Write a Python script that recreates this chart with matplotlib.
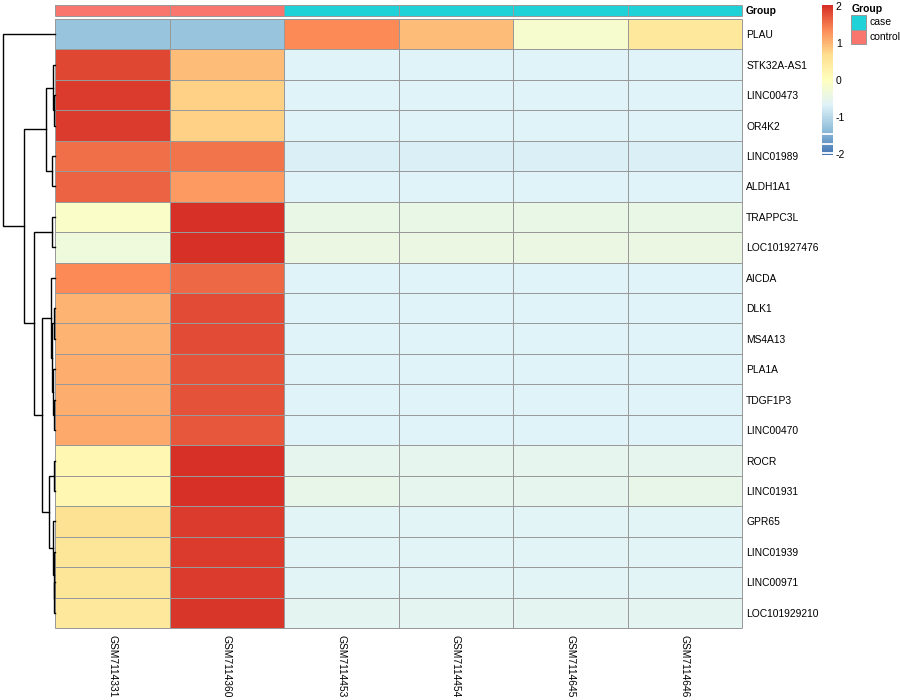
import numpy as np
import matplotlib
matplotlib.use('Agg')
import matplotlib.pyplot as plt
from matplotlib.colors import LinearSegmentedColormap, ListedColormap
from matplotlib.patches import Rectangle

plt.rcParams['font.family'] = ['Liberation Sans', 'DejaVu Sans']

genes = ["PLAU", "STK32A-AS1", "LINC00473", "OR4K2", "LINC01989", "ALDH1A1",
         "TRAPPC3L", "LOC101927476", "AICDA", "DLK1", "MS4A13", "PLA1A",
         "TDGF1P3", "LINC00470", "ROCR", "LINC01931", "GPR65", "LINC01939",
         "LINC00971", "LOC101929210"]
samples = ["GSM7114331", "GSM7114360", "GSM7114453", "GSM7114454",
           "GSM7114645", "GSM7114646"]
groups = ["control", "control", "case", "case", "case", "case"]

# row-scaled expression (z-scores)
zvals = [
    [-1.30, -1.30, 1.35, 0.95, -0.20, 0.50],
    [1.85, 0.95, -0.67, -0.67, -0.67, -0.67],
    [1.92, 0.78, -0.66, -0.66, -0.66, -0.66],
    [1.92, 0.78, -0.66, -0.66, -0.66, -0.66],
    [1.58, 1.52, -0.70, -0.70, -0.70, -0.70],
    [1.65, 1.25, -0.68, -0.68, -0.68, -0.68],
    [-0.10, 2.04, -0.48, -0.48, -0.48, -0.48],
    [-0.35, 2.04, -0.42, -0.42, -0.42, -0.42],
    [1.35, 1.60, -0.69, -0.69, -0.69, -0.69],
    [1.05, 1.80, -0.67, -0.67, -0.67, -0.67],
    [1.05, 1.80, -0.67, -0.67, -0.67, -0.67],
    [1.07, 1.79, -0.67, -0.67, -0.67, -0.67],
    [1.10, 1.76, -0.67, -0.67, -0.67, -0.67],
    [1.12, 1.74, -0.67, -0.67, -0.67, -0.67],
    [0.20, 2.00, -0.55, -0.55, -0.55, -0.55],
    [0.18, 2.00, -0.53, -0.55, -0.55, -0.50],
    [0.65, 1.95, -0.63, -0.63, -0.63, -0.63],
    [0.55, 1.95, -0.62, -0.62, -0.62, -0.62],
    [0.55, 1.95, -0.62, -0.62, -0.62, -0.62],
    [0.50, 1.97, -0.61, -0.61, -0.61, -0.61],
]

# row dendrogram: (child a, child b, height); leaves 0..19, merge k -> id 20+k
merges = [
    (2, 3, 0.13), (1, 20, 0.33), (4, 5, 0.52), (21, 22, 1.72),
    (6, 7, 0.63), (9, 10, 0.19), (12, 13, 0.19), (11, 26, 0.33),
    (25, 27, 0.57), (8, 28, 0.76), (14, 15, 0.13), (18, 19, 0.10),
    (17, 31, 0.19), (16, 32, 0.33), (30, 33, 1.20), (29, 34, 2.49),
    (24, 35, 3.96), (23, 36, 5.93), (0, 37, 10.0),
]

group_colors = {"case": "#1ED2D8", "control": "#F8766D"}
palette = ["#4575B4", "#91BFDB", "#E0F3F8", "#FFFFBF", "#FEE090", "#FC8D59", "#D73027"]
cmap = LinearSegmentedColormap.from_list("rdylbu", palette, N=100)
vmin, vmax = -2.04, 2.04
border = "#999999"
grid_lw = 0.72

W, H = 900, 700
fig = plt.figure(figsize=(9, 7), dpi=100)


def px(x0, y0, x1, y1):
    return [x0 / W, 1 - y1 / H, (x1 - x0) / W, (y1 - y0) / H]


def cell_grid(a, nr, nc, y_lo, y_hi):
    xs = np.arange(nc + 1) - 0.5
    ys = np.linspace(y_lo, y_hi, nr + 1)
    a.vlines(xs, y_lo, y_hi, colors=border, lw=grid_lw, clip_on=False)
    a.hlines(ys, xs[0], xs[-1], colors=border, lw=grid_lw, clip_on=False)


n_rows, n_cols = len(genes), len(samples)
data = np.array(zvals)

# main heatmap
ax = fig.add_axes(px(55, 19, 742, 628))
ax.pcolormesh(np.arange(n_cols + 1) - 0.5, np.arange(n_rows + 1) - 0.5, data,
              cmap=cmap, vmin=vmin, vmax=vmax)
cell_grid(ax, n_rows, n_cols, -0.5, n_rows - 0.5)
ax.set_xlim(-0.5, n_cols - 0.5)
ax.set_ylim(n_rows - 0.5, -0.5)
ax.yaxis.tick_right()
ax.set_yticks(range(n_rows))
ax.set_yticklabels(genes, fontsize=7.4)
ax.set_xticks(range(n_cols))
ax.set_xticklabels(samples, fontsize=7.4, rotation=270, va='top')
ax.tick_params(length=0, pad=3)
ax.tick_params(axis='x', pad=5)
for s in ax.spines.values():
    s.set_visible(False)

# group annotation bar
gax = fig.add_axes(px(55, 5, 742, 16))
gcodes = np.array([[0 if g == "case" else 1 for g in groups]])
gax.pcolormesh(np.arange(n_cols + 1) - 0.5, [0, 1], gcodes,
               cmap=ListedColormap([group_colors["case"], group_colors["control"]]),
               vmin=0, vmax=1)
cell_grid(gax, 1, n_cols, 0, 1)
gax.set_xlim(-0.5, n_cols - 0.5)
gax.set_ylim(0, 1)
gax.set_xticks([])
gax.set_yticks([])
for s in gax.spines.values():
    s.set_visible(False)
fig.text(746 / W, 1 - 10.5 / H, "Group", fontsize=7.4, fontweight='bold', va='center')

# row dendrogram
dax = fig.add_axes(px(2.7, 19, 55, 628))
pos = {i: (float(i), 0.0) for i in range(n_rows)}
for k, (a, b, h) in enumerate(merges):
    ya, ha = pos[a]
    yb, hb = pos[b]
    dax.plot([ha, h, h, hb], [ya, ya, yb, yb], color='black', lw=1.0,
             solid_joinstyle='miter', clip_on=False)
    pos[n_rows + k] = ((ya + yb) / 2, h)
dax.set_xlim(merges[-1][2], 0)
dax.set_ylim(n_rows - 0.5, -0.5)
dax.axis('off')

# colour legend
cax = fig.add_axes(px(822, 5, 833, 155))
grad = np.linspace(vmin, vmax, 200).reshape(-1, 1)
cax.imshow(grad, cmap=cmap, vmin=vmin, vmax=vmax, aspect='auto', origin='lower',
           extent=[0, 1, vmin, vmax])
for yv in [-1.48, -1.73, -1.99]:
    cax.axhline(yv, color='white', lw=1.3)
cax.set_xlim(0, 1)
cax.set_ylim(vmin, vmax)
cax.set_xticks([])
cax.yaxis.tick_right()
cax.set_yticks([2, 1, 0, -1, -2])
cax.set_yticklabels(["2", "1", "0", "-1", "-2"], fontsize=7.5)
cax.tick_params(length=0, pad=2)
for s in cax.spines.values():
    s.set_visible(False)

# group legend
lax = fig.add_axes([0, 0, 1, 1])
lax.set_xlim(0, W)
lax.set_ylim(H, 0)
lax.axis('off')
lax.text(852, 8.5, "Group", fontsize=7.5, fontweight='bold', va='center')
for i, g in enumerate(["case", "control"]):
    y0 = 15 + i * 14.5
    lax.add_patch(Rectangle((851, y0), 15, 14.5, facecolor=group_colors[g],
                            edgecolor=border, lw=grid_lw))
    lax.text(869, y0 + 7.25, g, fontsize=7.5, va='center')

fig.savefig("out.png", dpi=100)
